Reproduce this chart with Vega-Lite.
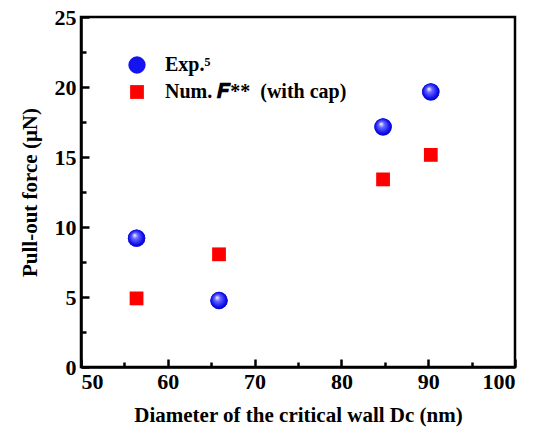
{
  "$schema": "https://vega.github.io/schema/vega-lite/v6.json",
  "width": 434,
  "height": 350,
  "autosize": {"type": "none"},
  "padding": {"left": 81, "top": 17, "right": 25, "bottom": 64},
  "background": "white",
  "config": {
    "view": {"stroke": "black", "strokeWidth": 2.5},
    "font": "Liberation Serif",
    "axis": {
      "domainColor": "black", "domainWidth": 2.5,
      "tickColor": "black", "tickWidth": 2.5,
      "labelFont": "Liberation Serif", "labelFontWeight": "bold", "labelFontSize": 22, "labelColor": "black",
      "titleFont": "Liberation Serif", "titleFontWeight": "bold", "titleFontSize": 21, "titleColor": "black",
      "grid": false
    },
    "legend": {
      "labelFont": "Liberation Serif, DejaVu Serif", "labelFontWeight": "bold", "labelFontSize": 20, "labelColor": "black",
      "padding": 0
    }
  },
  "data": {
    "values": [
      {"d": 56.4, "f": 9.2, "series": "Exp"},
      {"d": 65.9, "f": 4.75, "series": "Exp"},
      {"d": 84.8, "f": 17.15, "series": "Exp"},
      {"d": 90.3, "f": 19.65, "series": "Exp"},
      {"d": 56.4, "f": 4.9, "series": "Num"},
      {"d": 65.9, "f": 8.05, "series": "Num"},
      {"d": 84.8, "f": 13.4, "series": "Num"},
      {"d": 90.3, "f": 15.15, "series": "Num"}
    ]
  },
  "encoding": {
    "x": {
      "field": "d", "type": "quantitative",
      "scale": {"domain": [50, 100], "nice": false, "zero": false},
      "axis": {
        "title": "Diameter of the critical wall Dc (nm)",
        "values": [50, 55, 60, 65, 70, 75, 80, 85, 90, 95, 100],
        "labelExpr": "datum.value % 10 === 0 ? datum.label : ''",
        "tickSize": {"condition": {"test": "datum.value % 10 === 0", "value": -8}, "value": -5},
        "labelPadding": 12,
        "titlePadding": 12
      }
    },
    "y": {
      "field": "f", "type": "quantitative",
      "scale": {"domain": [0, 25], "nice": false},
      "axis": {
        "title": "Pull-out force (μN)",
        "values": [0, 2.5, 5, 7.5, 10, 12.5, 15, 17.5, 20, 22.5, 25],
        "labelExpr": "datum.value % 5 === 0 ? datum.label : ''",
        "tickSize": {"condition": {"test": "datum.value % 5 === 0", "value": -8}, "value": -5},
        "labelPadding": 13,
        "titlePadding": 14
      }
    }
  },
  "layer": [
    {
      "mark": {"type": "point", "filled": true, "opacity": 1, "strokeWidth": 0},
      "encoding": {
        "shape": {
          "field": "series", "type": "nominal",
          "scale": {"domain": ["Exp", "Num"], "range": ["circle", "square"]},
          "legend": {
            "title": null,
            "orient": "none",
            "legendX": 46,
            "legendY": 38,
            "labelOffset": 18,
            "rowPadding": 7,
            "labelLimit": 500,
            "labelExpr": "datum.value === 'Exp' ? 'Exp.⁵' : 'Num. 𝑭**\u00a0 (with cap)'"
          }
        },
        "color": {
          "field": "series", "type": "nominal",
          "scale": {"domain": ["Exp", "Num"], "range": ["#1414f0", "#ff0000"]}
        },
        "size": {
          "field": "series", "type": "nominal",
          "scale": {"domain": ["Exp", "Num"], "range": [300, 190]}
        }
      }
    },
    {
      "transform": [{"filter": "datum.series === 'Exp'"}],
      "mark": {
        "type": "point", "filled": true, "opacity": 1, "strokeWidth": 0, "shape": "circle", "size": 300,
        "fill": {"gradient": "radial", "x1": 0.38, "y1": 0.32, "r1": 0, "x2": 0.5, "y2": 0.5, "r2": 0.55, "stops": [{"offset": 0, "color": "#ffffff"}, {"offset": 0.3, "color": "#6a6aff"}, {"offset": 0.75, "color": "#1010f0"}, {"offset": 1, "color": "#0000b0"}]}
      }
    }
  ]
}
